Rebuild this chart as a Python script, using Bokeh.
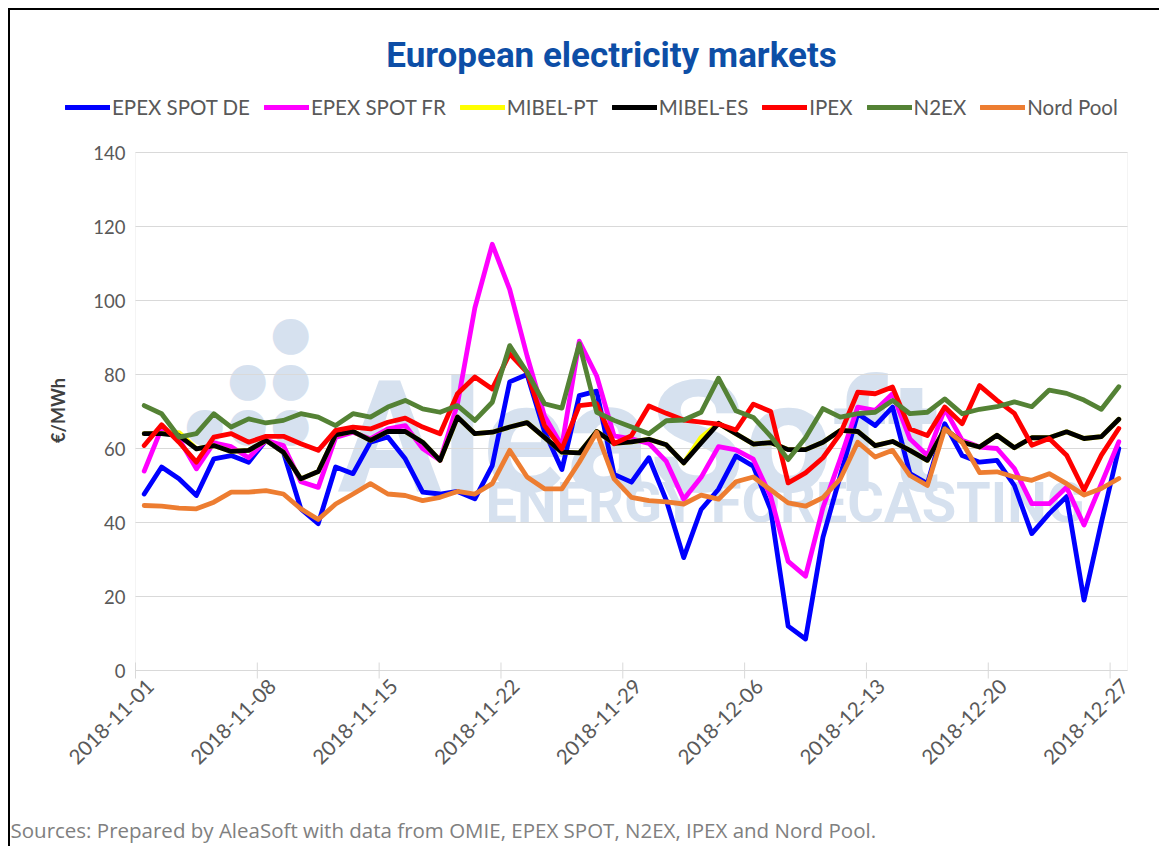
import math
from bokeh.plotting import figure
from bokeh.models import Range1d, Legend, LegendItem, Label, BoxAnnotation
from bokeh.core.properties import value
from bokeh.embed import file_html
from bokeh.resources import INLINE

# ---------------- data ----------------
tick_labels = ["2018-11-01", "2018-11-08", "2018-11-15", "2018-11-22", "2018-11-29",
               "2018-12-06", "2018-12-13", "2018-12-20", "2018-12-27"]
n_days = 57
days = list(range(n_days))
y_ticks = [0, 20, 40, 60, 80, 100, 120, 140]

epex_de = [47.7, 55.0, 51.8, 47.3, 57.2, 58.1, 56.3, 62.2, 59.0, 43.7,
           39.7, 55.0, 53.2, 61.7, 63.1, 57.2, 48.2, 47.7, 48.4, 46.4,
           55.4, 78.0, 80.0, 64.6, 54.3, 74.3, 75.5, 53.0, 50.9, 57.5,
           46.0, 30.5, 43.5, 49.0, 58.0, 55.2, 43.5, 12.0, 8.5, 36.0,
           52.7, 69.4, 66.2, 71.2, 53.2, 50.5, 66.7, 58.1, 56.3, 56.8,
           50.0, 37.0, 42.4, 47.0, 19.0, 40.0, 60.0]
epex_fr = [53.9, 65.5, 62.6, 54.5, 61.5, 60.5, 57.5, 62.2, 60.8, 51.0,
           49.5, 63.0, 64.4, 62.6, 65.3, 66.2, 60.0, 56.8, 72.0, 98.0,
           115.2, 103.0, 85.0, 68.8, 60.7, 89.0, 79.6, 63.4, 62.6, 61.4,
           56.5, 46.3, 52.2, 60.5, 59.6, 57.1, 47.0, 29.5, 25.5, 44.0,
           57.2, 71.2, 70.3, 74.8, 62.6, 58.1, 70.7, 62.2, 60.4, 60.0,
           54.6, 45.1, 45.1, 49.5, 39.3, 50.5, 61.8]
mibel_pt = [64.0, 64.0, 64.3, 59.9, 60.8, 59.2, 59.5, 62.2, 59.0, 51.8,
            53.8, 63.7, 64.6, 62.2, 64.6, 64.6, 61.7, 56.8, 68.5, 64.0,
            64.4, 65.8, 67.0, 63.0, 59.0, 58.8, 64.6, 61.4, 61.8, 62.5,
            61.0, 56.1, 63.0, 66.8, 64.0, 61.2, 61.6, 59.7, 59.7, 61.7,
            64.9, 64.6, 60.8, 61.9, 59.5, 56.8, 65.3, 61.7, 60.4, 63.6,
            60.2, 62.9, 62.9, 64.5, 62.7, 63.2, 67.9]
mibel_es = [64.0, 64.0, 63.5, 59.9, 60.8, 59.2, 59.5, 62.2, 59.0, 51.8,
            53.8, 63.7, 64.6, 62.2, 64.6, 64.6, 61.7, 56.8, 68.5, 64.0,
            64.4, 65.8, 67.0, 63.0, 59.0, 58.8, 64.6, 61.4, 61.8, 62.5,
            61.0, 56.1, 61.5, 66.8, 64.0, 61.2, 61.6, 59.7, 59.7, 61.7,
            64.9, 64.6, 60.8, 61.9, 59.5, 56.8, 65.3, 61.7, 60.4, 63.6,
            60.2, 62.9, 62.9, 64.5, 62.7, 63.2, 67.9]
ipex = [60.8, 66.4, 61.7, 56.3, 63.1, 64.0, 61.7, 63.3, 63.3, 61.3,
        59.5, 64.9, 65.8, 65.3, 67.1, 68.2, 65.8, 64.0, 74.8, 79.3,
        76.1, 85.6, 80.6, 66.2, 59.9, 71.6, 72.1, 61.3, 63.5, 71.5,
        69.5, 67.7, 67.1, 66.6, 65.0, 72.0, 70.0, 50.7, 53.4, 57.5,
        64.0, 75.2, 74.8, 76.6, 65.3, 63.5, 71.2, 66.7, 77.0, 73.0,
        69.5, 60.9, 62.7, 58.2, 48.7, 58.2, 65.4]
n2ex = [71.6, 69.4, 63.1, 64.0, 69.4, 65.8, 68.0, 66.9, 67.6, 69.4,
        68.5, 66.2, 69.4, 68.5, 71.2, 73.0, 70.7, 69.8, 71.6, 67.6,
        72.5, 87.8, 80.6, 72.1, 70.9, 88.3, 69.8, 67.6, 65.8, 64.0,
        67.5, 67.7, 69.8, 79.0, 70.2, 68.4, 63.3, 57.0, 62.9, 70.8,
        68.5, 69.4, 69.8, 73.0, 69.4, 69.8, 73.4, 69.4, 70.6, 71.3,
        72.6, 71.3, 75.8, 74.9, 73.1, 70.6, 76.7]
nord_pool = [44.6, 44.4, 43.9, 43.7, 45.5, 48.2, 48.2, 48.6, 47.7, 43.7,
             40.8, 45.0, 47.7, 50.5, 47.7, 47.3, 45.9, 46.8, 48.4, 47.7,
             50.5, 59.5, 52.3, 49.1, 49.1, 56.3, 64.4, 51.8, 46.8, 45.9,
             45.6, 45.0, 47.4, 46.3, 51.0, 52.3, 48.8, 45.3, 44.4, 46.7,
             51.8, 61.7, 57.7, 59.5, 52.7, 50.0, 65.3, 61.7, 53.5, 53.7,
             52.3, 51.4, 53.2, 50.5, 47.4, 49.2, 51.9]

series_names = ["EPEX SPOT DE", "EPEX SPOT FR", "MIBEL-PT", "MIBEL-ES", "IPEX", "N2EX", "Nord Pool"]
series_values = [epex_de, epex_fr, mibel_pt, mibel_es, ipex, n2ex, nord_pool]
series_colors = ["#0000FF", "#FF00FF", "#FFFF00", "#000000", "#FF0000", "#548235", "#ED7D31"]

# ---------------- layout constants (pixels on the canvas) ----------------
W, H = 1151, 838                       # canvas (page: 8px margin + 2px black frame line)
PL, PR, PT, PB = 125, 1117, 142, 660   # plot area: left, right, top (=140), bottom (=0)
x_lo, x_hi = -0.5, n_days - 0.5
y_lo, y_hi = y_ticks[0], y_ticks[-1]
px_x = (PR - PL) / (x_hi - x_lo)
px_y = (PB - PT) / (y_hi - y_lo)

GRID = "#D9D9D9"
TXT = "#595959"
FONT = "Lato"

p = figure(width=W, height=H, output_backend="svg", toolbar_location=None, title=None,
           x_axis_location=None, y_axis_location=None,
           x_range=Range1d(x_lo - PL / px_x, x_hi + (W - PR) / px_x),
           y_range=Range1d(y_lo - (H - PB) / px_y, y_hi + PT / px_y),
           min_border=0)
p.styles = {"margin-left": "8px", "margin-top": "8px",
            "border-left": "2px solid #000000", "border-top": "2px solid #000000"}
p.outline_line_color = None
for g in p.grid:
    g.visible = False

# watermark (screen units from canvas bottom-left)
WM = "#D6E1EF"
p.add_layout(Label(x=327, y=H - 427, x_units="screen", y_units="screen", text="AleaSoft",
                   text_font="Roboto", text_font_style="bold", text_font_size="155px",
                   text_color=WM, text_baseline="alphabetic", level="underlay"))
p.add_layout(Label(x=475, y=H - 492, x_units="screen", y_units="screen", text="ENERGY FORECASTING",
                   text_font="Roboto", text_font_style="bold", text_font_size="56px",
                   text_color=WM, text_baseline="alphabetic", level="underlay"))
for cx, cy in [(280, 322), (237, 368), (280, 368), (194, 413), (237, 413), (280, 413)]:
    p.add_layout(Label(x=cx, y=H - cy, x_units="screen", y_units="screen", text="\u25CF",
                       text_font="DejaVu Sans", text_font_size="47px", text_color=WM,
                       text_align="center", text_baseline="middle", level="underlay"))

# plot-area frame, grid lines, x ticks
p.add_layout(BoxAnnotation(left=x_lo, right=x_hi, bottom=y_lo, top=y_hi,
                           fill_alpha=0, line_color=GRID, line_width=1, level="underlay"))
p.segment(x0=[x_lo] * len(y_ticks), x1=[x_hi] * len(y_ticks), y0=y_ticks, y1=y_ticks,
          line_color=GRID, line_width=1)
tick_pos = [i * 7 for i in range(len(tick_labels))]
p.scatter(x=[t - 0.5 for t in tick_pos], y=[y_lo] * len(tick_pos), marker="dash",
          angle=math.pi / 2, size=16, line_color=GRID, line_width=1)

# tick labels
p.text(x=[x_lo] * len(y_ticks), y=y_ticks, text=[str(t) for t in y_ticks],
       x_offset=-10, text_align="right", text_baseline="middle",
       text_font=value(FONT), text_font_size="18.5px", text_color=TXT)
p.text(x=tick_pos, y=[y_lo] * len(tick_pos), text=tick_labels, angle=math.pi / 4,
       x_offset=6, y_offset=12, text_align="right", text_baseline="middle",
       text_font=value(FONT), text_font_size="20.5px", text_color=TXT)

# data lines
items = []
for name, vals, col in zip(series_names, series_values, series_colors):
    r = p.line(days, vals, line_color=col, line_width=4.8, line_join="round", line_cap="round")
    items.append(LegendItem(label=name, renderers=[r]))

legend = Legend(items=items, orientation="horizontal", location=(55, H - 97 - 12),
                glyph_width=45, glyph_height=20, label_standoff=2, spacing=14, padding=0,
                margin=0, border_line_color=None, background_fill_alpha=0,
                label_text_font=FONT, label_text_font_size="20.5px", label_text_color=TXT)
p.add_layout(legend)

# titles and notes (screen units from canvas bottom-left)
p.add_layout(Label(x=601, y=H - 45, x_units="screen", y_units="screen",
                   text="European electricity markets", text_align="center", text_baseline="middle",
                   text_font="Roboto", text_font_style="bold", text_font_size="35px",
                   text_color="#0D4EA6"))
p.add_layout(Label(x=47, y=H - 400, x_units="screen", y_units="screen", text="€/MWh",
                   angle=math.pi / 2, text_align="center", text_baseline="middle",
                   text_font=FONT, text_font_style="bold", text_font_size="18px",
                   text_color="#404040"))
p.add_layout(Label(x=0, y=H - 819, x_units="screen", y_units="screen",
                   text="Sources: Prepared by AleaSoft with data from OMIE, EPEX SPOT, N2EX, IPEX and Nord Pool.",
                   text_align="left", text_baseline="middle",
                   text_font="Open Sans", text_font_size="20.5px", text_color="#808080"))

open("out.html", "w").write(file_html(p, INLINE))
